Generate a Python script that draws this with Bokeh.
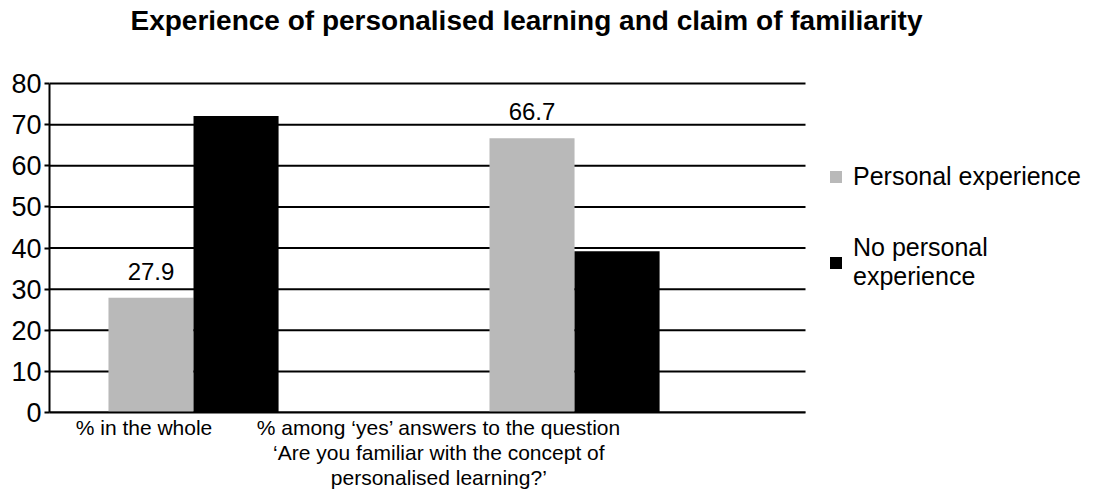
from bokeh.plotting import figure
from bokeh.models import Range1d, FixedTicker, Legend, LegendItem, ColumnDataSource, LabelSet, Label
from bokeh.core.properties import value
from bokeh.embed import file_html
from bokeh.resources import INLINE

title_text = "Experience of personalised learning and claim of familiarity"
categories = ["% in the whole",
              "% among \u2018yes\u2019 answers to the question\n\u2018Are you familiar with the concept of\npersonalised learning?\u2019"]
personal = [27.9, 66.7]
no_personal = [72.1, 39.2]
series_names = ["Personal experience", "No personal\nexperience"]
y_ticks = [0, 10, 20, 30, 40, 50, 60, 70, 80]

FONT = "Liberation Sans"
W, H = 1102, 503
LEFT, TOP, BOTTOM, RIGHT = 49, 10, 91, 5
AXIS_H = 329          # pixel height of the 0..80 axis
AXIS_W = 756          # pixel width of the 0..2 category area
group_center = [0.381, 1.389]
label_pos = [0.25, 1.03]
bw = 0.225
frame_w = W - LEFT - RIGHT
frame_h = H - TOP - BOTTOM
x_end = 2 * frame_w / AXIS_W
y_end = 80 * frame_h / AXIS_H

p = figure(width=W, height=H, output_backend="svg", toolbar_location=None,
           x_range=Range1d(0, x_end), y_range=Range1d(0, y_end),
           min_border_left=LEFT, min_border_right=RIGHT, min_border_top=TOP, min_border_bottom=BOTTOM)
p.outline_line_color = None
p.background_fill_color = "white"
p.xgrid.grid_line_color = None
p.ygrid.grid_line_color = None

# horizontal gridlines limited to the category area (x from 0 to 2)
p.segment(x0=[0] * len(y_ticks), x1=[2] * len(y_ticks), y0=y_ticks, y1=y_ticks,
          line_color="black", line_width=2)

src1 = ColumnDataSource(dict(x=[c - bw / 2 for c in group_center], top=personal,
                             lab=[f"{v:.1f}" for v in personal]))
src2 = ColumnDataSource(dict(x=[c + bw / 2 for c in group_center], top=no_personal))
r1 = p.vbar(x="x", top="top", width=bw, source=src1, fill_color="#b9b9b9", line_color=None)
r2 = p.vbar(x="x", top="top", width=bw, source=src2, fill_color="#000000", line_color=None)

labels = LabelSet(x="x", y="top", text="lab", source=src1, text_align="center",
                  text_baseline="bottom", y_offset=18, text_font=value(FONT),
                  text_font_size="24px", text_color="black")
p.add_layout(labels)

p.yaxis.ticker = FixedTicker(ticks=y_ticks)
p.yaxis.bounds = (0, 80)
p.yaxis.axis_line_width = 2
p.yaxis.axis_line_color = "black"
p.yaxis.major_tick_line_width = 2
p.yaxis.major_tick_out = 5
p.yaxis.major_tick_in = 0
p.yaxis.minor_tick_line_color = None
p.yaxis.major_label_text_font = FONT
p.yaxis.major_label_text_font_size = "27px"
p.yaxis.major_label_text_color = "black"
p.yaxis.major_label_standoff = 3

p.xaxis.ticker = FixedTicker(ticks=label_pos)
p.xaxis.bounds = (0, 2)
p.xaxis.major_label_overrides = {label_pos[i]: categories[i] for i in range(2)}
p.xaxis.axis_line_width = 2
p.xaxis.axis_line_color = "black"
p.xaxis.major_tick_line_color = None
p.xaxis.minor_tick_line_color = None
p.xaxis.major_label_text_font = FONT
p.xaxis.major_label_text_font_size = "21px"
p.xaxis.major_label_text_color = "black"
p.xaxis.major_label_text_line_height = 1.1
p.xaxis.major_label_standoff = -3

title = Label(x=477, y=frame_h - (20 - TOP), x_units="screen", y_units="screen",
              text=title_text, text_align="center", text_baseline="middle",
              text_font=FONT, text_font_size="28px", text_font_style="bold",
              text_color="black")
p.add_layout(title)

legend = Legend(items=[LegendItem(label=series_names[0], renderers=[r1]),
                       LegendItem(label=series_names[1], renderers=[r2])],
                location=(779, 121), border_line_color=None, background_fill_alpha=0,
                label_text_font=FONT, label_text_font_size="25px", label_text_color="black",
                label_text_line_height=1.0,
                glyph_width=15, glyph_height=15, spacing=42, margin=0, padding=0,
                label_standoff=10)
p.add_layout(legend)

open("out.html", "w").write(file_html(p, INLINE))
